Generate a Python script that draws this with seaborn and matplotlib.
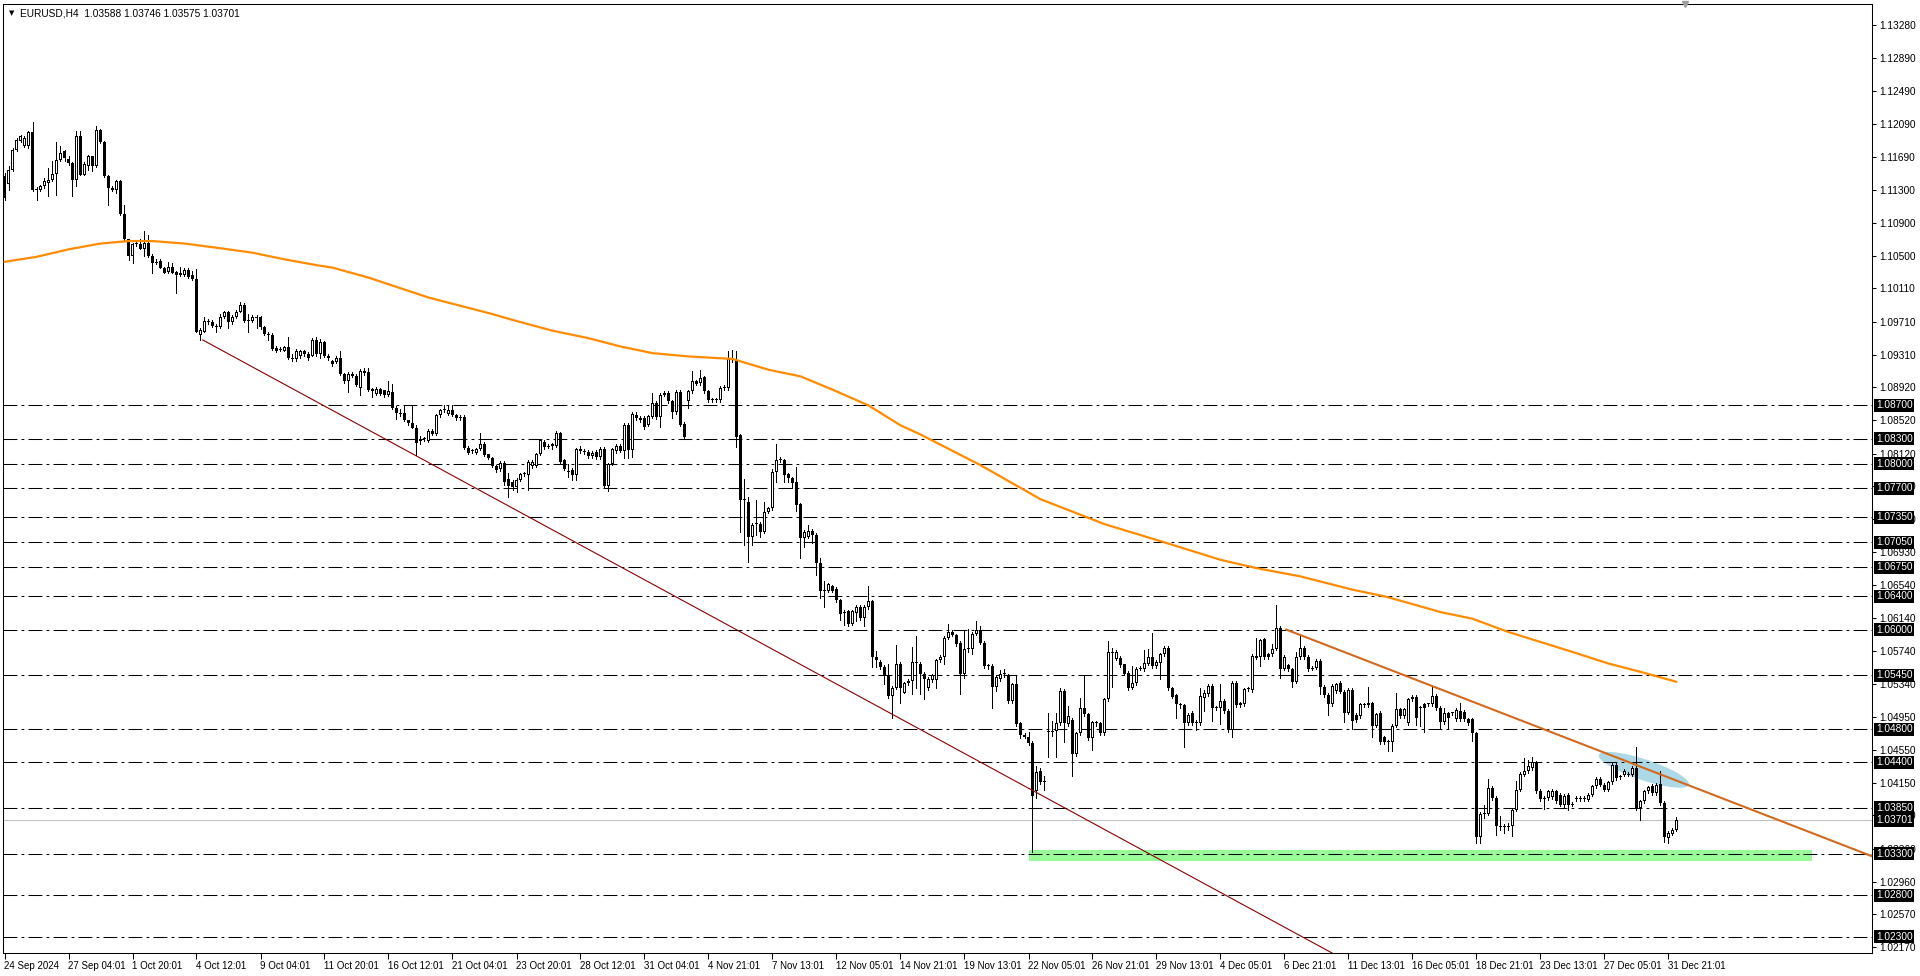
import numpy as np
import pandas as pd
import matplotlib
matplotlib.use("Agg")
import matplotlib.pyplot as plt
import seaborn as sns
from matplotlib.patches import Rectangle, Ellipse
from matplotlib.transforms import IdentityTransform

sns.set_theme(style="white")
plt.rcParams['font.family'] = ['Liberation Sans', 'DejaVu Sans']
plt.rcParams['lines.scale_dashes'] = False

# ---------------- data (EURUSD H4, one value per bar) ----------------
opens = [
 1.1146,1.1137,1.1154,1.1178,1.1188,1.1182,1.1182,1.1199,1.1130,1.1130,
 1.1134,1.1138,1.1141,1.1149,1.1166,1.1176,1.1167,1.1162,1.1141,1.1195,
 1.1148,1.1158,1.1170,1.1158,1.1202,1.1187,1.1146,1.1132,1.1129,1.1140,
 1.1101,1.1070,1.1050,1.1065,1.1065,1.1059,1.1066,1.1050,1.1042,1.1044,
 1.1036,1.1031,1.1037,1.1031,1.1027,1.1027,1.1033,1.1027,1.1022,1.0955,
 1.0959,1.0972,1.0970,1.0966,1.0964,1.0976,1.0982,1.0971,1.0977,1.0983,
 1.0991,1.0972,1.0972,1.0975,1.0976,1.0964,1.0956,1.0955,1.0939,1.0937,
 1.0936,1.0940,1.0927,1.0926,1.0929,1.0935,1.0932,1.0930,1.0949,1.0932,
 1.0946,1.0930,1.0920,1.0922,1.0927,1.0908,1.0900,1.0908,1.0906,1.0891,
 1.0909,1.0910,1.0890,1.0884,1.0890,1.0888,1.0882,1.0886,1.0867,1.0861,
 1.0861,1.0852,1.0849,1.0843,1.0827,1.0830,1.0827,1.0839,1.0835,1.0858,
 1.0864,1.0860,1.0864,1.0858,1.0855,1.0856,1.0819,1.0815,1.0813,1.0818,
 1.0824,1.0811,1.0807,1.0797,1.0793,1.0801,1.0781,1.0778,1.0772,1.0780,
 1.0787,1.0786,1.0797,1.0797,1.0811,1.0826,1.0820,1.0821,1.0821,1.0837,
 1.0804,1.0791,1.0792,1.0786,1.0817,1.0815,1.0814,1.0809,1.0814,1.0808,
 1.0818,1.0773,1.0799,1.0815,1.0821,1.0815,1.0847,1.0816,1.0859,1.0855,
 1.0855,1.0846,1.0856,1.0873,1.0856,1.0883,1.0885,1.0875,1.0862,1.0886,
 1.0848,1.0875,1.0887,1.0896,1.0897,1.0904,1.0887,1.0876,1.0877,1.0876,
 1.0891,1.0891,1.0926,1.0925,1.0834,1.0756,1.0754,1.0712,1.0727,1.0727,
 1.0718,1.0742,1.0746,1.0790,1.0804,1.0804,1.0787,1.0782,1.0778,1.0751,
 1.0710,1.0712,1.0719,1.0714,1.0680,1.0647,1.0647,1.0652,1.0649,1.0636,
 1.0620,1.0622,1.0607,1.0620,1.0627,1.0614,1.0627,1.0634,1.0567,1.0561,
 1.0555,1.0545,1.0520,1.0530,1.0559,1.0524,1.0535,1.0538,1.0561,1.0559,
 1.0547,1.0529,1.0539,1.0539,1.0563,1.0567,1.0590,1.0597,1.0594,1.0584,
 1.0547,1.0576,1.0576,1.0595,1.0600,1.0584,1.0556,1.0556,1.0531,1.0540,
 1.0546,1.0545,1.0514,1.0534,1.0487,1.0473,1.0471,1.0463,1.0405,1.0430,
 1.0416,1.0477,1.0477,1.0478,1.0487,1.0526,1.0486,1.0491,1.0450,1.0475,
 1.0506,1.0498,1.0469,1.0487,1.0487,1.0475,1.0516,1.0573,1.0565,1.0566,
 1.0558,1.0548,1.0530,1.0535,1.0553,1.0552,1.0559,1.0567,1.0556,1.0560,
 1.0570,1.0578,1.0530,1.0521,1.0510,1.0509,1.0487,1.0500,1.0487,1.0487,
 1.0517,1.0522,1.0532,1.0506,1.0505,1.0514,1.0502,1.0479,1.0536,1.0509,
 1.0510,1.0528,1.0527,1.0566,1.0567,1.0588,1.0567,1.0570,1.0577,1.0602,
 1.0553,1.0557,1.0552,1.0537,1.0567,1.0578,1.0567,1.0553,1.0554,1.0562,
 1.0531,1.0521,1.0510,1.0526,1.0536,1.0525,1.0500,1.0527,1.0497,1.0496,
 1.0510,1.0509,1.0511,1.0484,1.0500,1.0470,1.0464,1.0465,1.0484,1.0504,
 1.0496,1.0487,1.0516,1.0519,1.0505,1.0510,1.0510,1.0510,1.0520,1.0506,
 1.0488,1.0499,1.0499,1.0492,1.0502,1.0501,1.0492,1.0492,1.0475,1.0350,
 1.0378,1.0378,1.0409,1.0397,1.0363,1.0362,1.0363,1.0363,1.0383,1.0407,
 1.0425,1.0429,1.0433,1.0440,1.0406,1.0396,1.0397,1.0398,1.0405,1.0401,
 1.0388,1.0401,1.0389,1.0396,1.0397,1.0396,1.0395,1.0401,1.0411,1.0420,
 1.0413,1.0407,1.0416,1.0437,1.0422,1.0425,1.0426,1.0425,1.0433,1.0385,
 1.0393,1.0405,1.0412,1.0403,1.0414,1.0391,1.0349,1.0354,1.03588]

highs = [
 1.1150,1.1158,1.1180,1.1192,1.1196,1.1195,1.1201,1.1211,1.1133,1.1136,
 1.1144,1.1156,1.1164,1.1187,1.1182,1.1178,1.1170,1.1163,1.1200,1.1200,
 1.1163,1.1172,1.1171,1.1207,1.1203,1.1188,1.1147,1.1134,1.1141,1.1141,
 1.1112,1.1071,1.1066,1.1068,1.1071,1.1080,1.1075,1.1052,1.1046,1.1046,
 1.1037,1.1043,1.1041,1.1032,1.1037,1.1036,1.1035,1.1032,1.1034,1.0963,
 1.0976,1.0974,1.0973,1.0968,1.0980,1.0984,1.0984,1.0979,1.0985,1.0994,
 1.0993,1.0980,1.0979,1.0979,1.0978,1.0966,1.0958,1.0957,1.0941,1.0940,
 1.0942,1.0952,1.0932,1.0938,1.0937,1.0937,1.0934,1.0951,1.0952,1.0950,
 1.0948,1.0932,1.0925,1.0929,1.0936,1.0909,1.0910,1.0910,1.0908,1.0914,
 1.0915,1.0915,1.0891,1.0892,1.0891,1.0889,1.0900,1.0896,1.0869,1.0866,
 1.0871,1.0853,1.0870,1.0846,1.0833,1.0832,1.0841,1.0842,1.0860,1.0866,
 1.0870,1.0870,1.0870,1.0860,1.0858,1.0858,1.0821,1.0818,1.0819,1.0837,
 1.0826,1.0812,1.0808,1.0798,1.0803,1.0803,1.0788,1.0780,1.0783,1.0789,
 1.0790,1.0804,1.0804,1.0813,1.0830,1.0828,1.0823,1.0825,1.0839,1.0838,
 1.0806,1.0799,1.0794,1.0819,1.0821,1.0817,1.0816,1.0815,1.0816,1.0820,
 1.0820,1.0801,1.0819,1.0823,1.0823,1.0849,1.0849,1.0862,1.0862,1.0857,
 1.0857,1.0859,1.0885,1.0875,1.0885,1.0887,1.0887,1.0876,1.0889,1.0889,
 1.0850,1.0889,1.0912,1.0901,1.0913,1.0906,1.0888,1.0879,1.0879,1.0893,
 1.0894,1.0935,1.0937,1.0936,1.0836,1.0781,1.0760,1.0728,1.0756,1.0729,
 1.0754,1.0748,1.0793,1.0824,1.0808,1.0806,1.0789,1.0784,1.0796,1.0752,
 1.0720,1.0726,1.0721,1.0716,1.0686,1.0658,1.0656,1.0654,1.0651,1.0637,
 1.0624,1.0624,1.0624,1.0629,1.0629,1.0629,1.0653,1.0636,1.0574,1.0563,
 1.0557,1.0558,1.0532,1.0581,1.0561,1.0537,1.0540,1.0579,1.0592,1.0561,
 1.0549,1.0543,1.0547,1.0565,1.0569,1.0592,1.0607,1.0599,1.0595,1.0586,
 1.0599,1.0601,1.0597,1.0610,1.0604,1.0586,1.0559,1.0558,1.0545,1.0551,
 1.0552,1.0547,1.0536,1.0544,1.0489,1.0475,1.0477,1.0466,1.0435,1.0433,
 1.0423,1.0500,1.0490,1.0499,1.0530,1.0528,1.0508,1.0493,1.0477,1.0518,
 1.0545,1.0500,1.0490,1.0490,1.0489,1.0518,1.0586,1.0578,1.0575,1.0568,
 1.0559,1.0550,1.0556,1.0555,1.0556,1.0575,1.0576,1.0596,1.0563,1.0572,
 1.0580,1.0580,1.0531,1.0522,1.0512,1.0510,1.0499,1.0502,1.0491,1.0530,
 1.0527,1.0534,1.0534,1.0508,1.0534,1.0516,1.0504,1.0538,1.0538,1.0513,
 1.0530,1.0531,1.0570,1.0590,1.0589,1.0590,1.0572,1.0583,1.0629,1.0604,
 1.0569,1.0559,1.0554,1.0573,1.0594,1.0580,1.0569,1.0556,1.0564,1.0564,
 1.0533,1.0523,1.0534,1.0536,1.0538,1.0527,1.0529,1.0529,1.0499,1.0512,
 1.0512,1.0531,1.0513,1.0500,1.0502,1.0472,1.0467,1.0486,1.0523,1.0506,
 1.0506,1.0518,1.0521,1.0521,1.0508,1.0512,1.0512,1.0532,1.0522,1.0508,
 1.0506,1.0501,1.0501,1.0505,1.0512,1.0503,1.0494,1.0494,1.0477,1.0380,
 1.0389,1.0420,1.0411,1.0399,1.0375,1.0366,1.0367,1.0385,1.0418,1.0428,
 1.0445,1.0443,1.0446,1.0442,1.0408,1.0399,1.0407,1.0408,1.0407,1.0403,
 1.0402,1.0403,1.0392,1.0399,1.0399,1.0399,1.0403,1.0413,1.0422,1.0422,
 1.0415,1.0418,1.0439,1.0439,1.0425,1.0432,1.0428,1.0435,1.0458,1.0395,
 1.0407,1.0412,1.0414,1.0415,1.0430,1.0393,1.0357,1.0361,1.03746]

lows = [
 1.1118,1.1130,1.1152,1.1176,1.1187,1.1181,1.1180,1.1128,1.1118,1.1128,
 1.1132,1.1122,1.1140,1.1123,1.1165,1.1165,1.1160,1.1122,1.1134,1.1147,
 1.1147,1.1154,1.1152,1.1157,1.1186,1.1145,1.1111,1.1128,1.1126,1.1100,
 1.1069,1.1045,1.1042,1.1062,1.1058,1.1050,1.1049,1.1029,1.1040,1.1035,
 1.1029,1.1029,1.1029,1.1005,1.1026,1.1026,1.1024,1.1021,1.0958,1.0949,
 1.0958,1.0968,1.0964,1.0958,1.0963,1.0975,1.0963,1.0968,1.0975,1.0982,
 1.0970,1.0958,1.0970,1.0963,1.0962,1.0955,1.0949,1.0937,1.0934,1.0935,
 1.0935,1.0926,1.0924,1.0924,1.0927,1.0930,1.0925,1.0929,1.0930,1.0927,
 1.0928,1.0925,1.0918,1.0921,1.0907,1.0897,1.0886,1.0904,1.0893,1.0883,
 1.0907,1.0887,1.0880,1.0882,1.0883,1.0880,1.0881,1.0866,1.0854,1.0857,
 1.0851,1.0847,1.0843,1.0810,1.0824,1.0827,1.0826,1.0834,1.0834,1.0856,
 1.0862,1.0858,1.0857,1.0853,1.0853,1.0818,1.0811,1.0813,1.0811,1.0816,
 1.0809,1.0805,1.0796,1.0790,1.0791,1.0774,1.0760,1.0768,1.0766,1.0779,
 1.0785,1.0768,1.0795,1.0796,1.0810,1.0818,1.0819,1.0818,1.0820,1.0801,
 1.0792,1.0784,1.0780,1.0780,1.0813,1.0812,1.0807,1.0807,1.0806,1.0806,
 1.0771,1.0767,1.0798,1.0813,1.0814,1.0807,1.0807,1.0808,1.0853,1.0850,
 1.0842,1.0845,1.0855,1.0854,1.0844,1.0881,1.0873,1.0855,1.0860,1.0845,
 1.0830,1.0867,1.0885,1.0894,1.0895,1.0885,1.0874,1.0874,1.0874,1.0874,
 1.0889,1.0889,1.0922,1.0820,1.0717,1.0702,1.0681,1.0702,1.0714,1.0712,
 1.0716,1.0740,1.0744,1.0778,1.0802,1.0778,1.0778,1.0770,1.0743,1.0686,
 1.0699,1.0710,1.0704,1.0666,1.0638,1.0627,1.0645,1.0645,1.0633,1.0612,
 1.0606,1.0604,1.0605,1.0610,1.0612,1.0604,1.0625,1.0555,1.0555,1.0553,
 1.0534,1.0518,1.0494,1.0528,1.0512,1.0524,1.0533,1.0522,1.0530,1.0522,
 1.0516,1.0527,1.0537,1.0530,1.0561,1.0559,1.0588,1.0592,1.0580,1.0522,
 1.0542,1.0573,1.0570,1.0593,1.0582,1.0554,1.0553,1.0506,1.0526,1.0538,
 1.0543,1.0512,1.0512,1.0484,1.0469,1.0469,1.0461,1.0332,1.0397,1.0414,
 1.0407,1.0447,1.0472,1.0447,1.0485,1.0465,1.0484,1.0423,1.0448,1.0473,
 1.0496,1.0467,1.0455,1.0484,1.0473,1.0473,1.0514,1.0531,1.0563,1.0555,
 1.0545,1.0527,1.0528,1.0533,1.0551,1.0550,1.0557,1.0554,1.0554,1.0541,
 1.0568,1.0527,1.0517,1.0494,1.0506,1.0459,1.0485,1.0485,1.0479,1.0485,
 1.0502,1.0520,1.0490,1.0503,1.0486,1.0500,1.0477,1.0471,1.0507,1.0507,
 1.0508,1.0526,1.0525,1.0564,1.0556,1.0565,1.0565,1.0568,1.0575,1.0542,
 1.0551,1.0550,1.0531,1.0535,1.0565,1.0565,1.0550,1.0551,1.0552,1.0522,
 1.0519,1.0497,1.0508,1.0524,1.0523,1.0488,1.0498,1.0480,1.0489,1.0494,
 1.0507,1.0507,1.0470,1.0482,1.0462,1.0462,1.0454,1.0454,1.0482,1.0494,
 1.0494,1.0485,1.0514,1.0485,1.0484,1.0476,1.0508,1.0508,1.0503,1.0481,
 1.0486,1.0480,1.0497,1.0490,1.0490,1.0490,1.0485,1.0466,1.0343,1.0343,
 1.0373,1.0376,1.0395,1.0353,1.0358,1.0355,1.0358,1.0351,1.0381,1.0405,
 1.0423,1.0427,1.0431,1.0403,1.0394,1.0384,1.0395,1.0396,1.0391,1.0387,
 1.0386,1.0383,1.0387,1.0394,1.0394,1.0394,1.0393,1.0399,1.0409,1.0411,
 1.0405,1.0405,1.0414,1.0419,1.0420,1.0423,1.0423,1.0423,1.0383,1.0370,
 1.0391,1.0403,1.0401,1.0401,1.0389,1.0344,1.0343,1.0352,1.03575]

closes = [
 1.1120,1.1154,1.1178,1.1190,1.1194,1.1192,1.1199,1.1130,1.1131,1.1134,
 1.1140,1.1142,1.1149,1.1166,1.1174,1.1168,1.1162,1.1141,1.1195,1.1148,
 1.1161,1.1170,1.1158,1.1202,1.1187,1.1146,1.1132,1.1130,1.1140,1.1101,
 1.1070,1.1050,1.1065,1.1064,1.1059,1.1066,1.1050,1.1042,1.1043,1.1036,
 1.1030,1.1037,1.1030,1.1027,1.1029,1.1033,1.1025,1.1022,1.0959,1.0961,
 1.0972,1.0970,1.0966,1.0965,1.0976,1.0982,1.0971,1.0977,1.0983,1.0991,
 1.0972,1.0973,1.0977,1.0977,1.0964,1.0956,1.0955,1.0938,1.0936,1.0937,
 1.0940,1.0927,1.0926,1.0936,1.0935,1.0932,1.0927,1.0949,1.0932,1.0946,
 1.0930,1.0927,1.0923,1.0927,1.0908,1.0899,1.0908,1.0906,1.0894,1.0912,
 1.0912,1.0888,1.0887,1.0890,1.0884,1.0882,1.0887,1.0867,1.0861,1.0860,
 1.0852,1.0849,1.0843,1.0825,1.0830,1.0829,1.0839,1.0835,1.0858,1.0864,
 1.0866,1.0864,1.0858,1.0855,1.0856,1.0819,1.0813,1.0816,1.0817,1.0824,
 1.0810,1.0807,1.0797,1.0792,1.0801,1.0778,1.0773,1.0772,1.0780,1.0787,
 1.0788,1.0802,1.0802,1.0811,1.0828,1.0820,1.0821,1.0823,1.0837,1.0802,
 1.0793,1.0790,1.0786,1.0817,1.0815,1.0814,1.0809,1.0813,1.0808,1.0818,
 1.0773,1.0799,1.0817,1.0821,1.0815,1.0847,1.0816,1.0860,1.0855,1.0852,
 1.0844,1.0857,1.0873,1.0856,1.0883,1.0885,1.0875,1.0862,1.0886,1.0847,
 1.0832,1.0887,1.0899,1.0899,1.0903,1.0887,1.0876,1.0877,1.0876,1.0891,
 1.0892,1.0926,1.0925,1.0832,1.0756,1.0757,1.0712,1.0726,1.0727,1.0718,
 1.0742,1.0746,1.0790,1.0804,1.0805,1.0786,1.0782,1.0776,1.0750,1.0710,
 1.0718,1.0719,1.0714,1.0680,1.0647,1.0646,1.0655,1.0647,1.0635,1.0619,
 1.0621,1.0607,1.0622,1.0627,1.0614,1.0627,1.0634,1.0567,1.0563,1.0555,
 1.0545,1.0520,1.0530,1.0558,1.0529,1.0535,1.0538,1.0561,1.0560,1.0546,
 1.0540,1.0541,1.0545,1.0563,1.0567,1.0590,1.0597,1.0594,1.0583,1.0547,
 1.0576,1.0578,1.0595,1.0600,1.0584,1.0556,1.0557,1.0531,1.0543,1.0547,
 1.0546,1.0514,1.0534,1.0486,1.0473,1.0471,1.0463,1.0400,1.0428,1.0416,
 1.0417,1.0477,1.0478,1.0487,1.0526,1.0487,1.0496,1.0450,1.0475,1.0506,
 1.0498,1.0469,1.0488,1.0487,1.0475,1.0516,1.0573,1.0572,1.0573,1.0557,
 1.0547,1.0530,1.0535,1.0553,1.0554,1.0560,1.0567,1.0556,1.0561,1.0570,
 1.0578,1.0529,1.0519,1.0510,1.0509,1.0487,1.0497,1.0487,1.0489,1.0520,
 1.0523,1.0532,1.0506,1.0505,1.0514,1.0502,1.0479,1.0536,1.0509,1.0511,
 1.0528,1.0529,1.0568,1.0568,1.0587,1.0567,1.0570,1.0577,1.0602,1.0553,
 1.0567,1.0552,1.0537,1.0567,1.0578,1.0567,1.0552,1.0554,1.0562,1.0531,
 1.0521,1.0510,1.0532,1.0534,1.0525,1.0500,1.0527,1.0490,1.0491,1.0510,
 1.0509,1.0511,1.0484,1.0498,1.0465,1.0464,1.0465,1.0484,1.0504,1.0496,
 1.0504,1.0516,1.0519,1.0493,1.0505,1.0505,1.0510,1.0520,1.0505,1.0488,
 1.0499,1.0493,1.0499,1.0503,1.0492,1.0492,1.0487,1.0475,1.0350,1.0378,
 1.0378,1.0409,1.0397,1.0363,1.0362,1.0363,1.0362,1.0383,1.0407,1.0426,
 1.0429,1.0436,1.0440,1.0405,1.0396,1.0397,1.0405,1.0406,1.0393,1.0389,
 1.0400,1.0389,1.0390,1.0397,1.0396,1.0397,1.0401,1.0411,1.0420,1.0413,
 1.0407,1.0416,1.0437,1.0421,1.0423,1.0430,1.0425,1.0433,1.0385,1.0393,
 1.0405,1.0410,1.0403,1.0413,1.0391,1.0350,1.0355,1.0359,1.03701]

# moving average (orange) read at selected bars
ma_bars = [0, 8, 16, 24, 31, 37, 45, 53, 62, 70, 78, 82, 91, 106, 122, 127, 137,
           146, 154, 162, 171, 182, 191, 199, 207, 216, 224, 229, 244, 259, 275,
           290, 304, 313, 324, 337, 345, 351, 359, 367, 376, 384, 392, 401, 409, 418]
ma_vals = [1.1043, 1.1049, 1.1058, 1.1065, 1.1068, 1.1068, 1.1065, 1.1060, 1.1054,
           1.1046, 1.1039, 1.1036, 1.1024, 1.1000, 1.0980, 1.0973, 1.0960, 1.0951,
           1.0941, 1.0933, 1.0929, 1.0926, 1.0913, 1.0905, 1.0889, 1.0870, 1.0846,
           1.0835, 1.0798, 1.0757, 1.0727, 1.0705, 1.0684, 1.0674, 1.0664, 1.0648,
           1.0640, 1.0632, 1.0621, 1.0613, 1.0597, 1.0585, 1.0573, 1.0559, 1.0549,
           1.0537]

# horizontal levels (dash-dot lines with black price boxes)
levels = [1.0870, 1.0830, 1.0800, 1.0770, 1.0735, 1.0705, 1.0675, 1.0640,
          1.0600, 1.0545, 1.0480, 1.0440, 1.0385, 1.0330, 1.0280, 1.0230]
bid_price = 1.03701

# trend lines (two anchor points each: bar, price)
red_tl_bars = [49.5, 332.0]
red_tl_prices = [1.0949, 1.0210]
brown_tl_bars = [320.4, 418.0]
brown_tl_prices = [1.0600, 1.0418]

# ellipse (two ends, bar/price) and support rectangle
ellipse_bars = [398.6, 421.1]
ellipse_prices = [1.0449, 1.0413]
ellipse_ratio = 0.22
rect_bars = [256.1, 452.0]
rect_prices = [1.03215, 1.03345]

# axis labels
y_ticks = [1.13280, 1.12890, 1.12490, 1.12090, 1.11690, 1.11300, 1.10900, 1.10500,
           1.10110, 1.09710, 1.09310, 1.08920, 1.08520, 1.08120, 1.07730, 1.07330,
           1.06930, 1.06540, 1.06140, 1.05740, 1.05340, 1.04950, 1.04550, 1.04150,
           1.03760, 1.03360, 1.02960, 1.02570, 1.02170]
x_tick_labels = ["24 Sep 2024", "27 Sep 04:01", "1 Oct 20:01", "4 Oct 12:01",
                 "9 Oct 04:01", "11 Oct 20:01", "16 Oct 12:01", "21 Oct 04:01",
                 "23 Oct 20:01", "28 Oct 12:01", "31 Oct 04:01", "4 Nov 21:01",
                 "7 Nov 13:01", "12 Nov 05:01", "14 Nov 21:01", "19 Nov 13:01",
                 "22 Nov 05:01", "26 Nov 21:01", "29 Nov 13:01", "4 Dec 05:01",
                 "6 Dec 21:01", "11 Dec 13:01", "16 Dec 05:01", "18 Dec 21:01",
                 "23 Dec 13:01", "27 Dec 05:01", "31 Dec 21:01"]
x_tick_step = 16
title_text = "EURUSD,H4  1.03588 1.03746 1.03575 1.03701"

# ---------------- figure ----------------
W, H, DPI = 1920, 976, 100
fig = plt.figure(figsize=(W / DPI, H / DPI), dpi=DPI, facecolor="white")
ax = fig.add_axes([3 / W, (H - 953) / H, (1872 - 3) / W, (953 - 4) / H])
ax.set_facecolor("white")

XLIM = (-0.375, 466.875)
YLIM = (1.02103, 1.13536)
ax.set_xlim(*XLIM)
ax.set_ylim(*YLIM)
ax.set_autoscale_on(False)
PX = (YLIM[1] - YLIM[0]) / (953 - 4)   # price per screen pixel

df = pd.DataFrame({"open": opens, "high": highs, "low": lows, "close": closes})
df["bar"] = np.arange(len(df))
up = df["close"] >= df["open"]

# background objects
ax.add_patch(Rectangle((rect_bars[0], rect_prices[0]), rect_bars[1] - rect_bars[0],
                       rect_prices[1] - rect_prices[0], facecolor="#98FB98",
                       edgecolor="none", zorder=0.5))
p1 = ax.transData.transform((ellipse_bars[0], ellipse_prices[0]))
p2 = ax.transData.transform((ellipse_bars[1], ellipse_prices[1]))
cen = (p1 + p2) / 2
d = p2 - p1
ew = float(np.hypot(d[0], d[1]))
ang = float(np.degrees(np.arctan2(d[1], d[0])))
ell = Ellipse(cen, ew, ew * ellipse_ratio, angle=ang, transform=IdentityTransform(),
              facecolor="#ADD8E6", edgecolor="none", zorder=0.6)
ax.add_patch(ell)

# levels
for lv in levels:
    ax.axhline(lv, color="black", lw=0.75, linestyle=(0, (10, 3, 2, 3)), zorder=1)
ax.axhline(bid_price, color="#C0C0C0", lw=0.75, zorder=1)

# candles: wick, black outer body (3 px), white 1 px core for rising bars
ax.vlines(df["bar"], df["low"], df["high"], color="black", lw=0.72, zorder=3,
          antialiased=False)
body_lo = np.minimum(df["open"], df["close"])
body_h = np.abs(df["close"] - df["open"])
outer_h = np.maximum(body_h, PX)
ax.bar(df["bar"], outer_h, bottom=body_lo, width=0.75, color="black", linewidth=0,
       zorder=4, antialiased=False)
core = up & (body_h > 2.5 * PX)
ax.bar(df["bar"][core], body_h[core] - 2 * PX, bottom=body_lo[core] + PX, width=0.25,
       color="white", linewidth=0, zorder=5, antialiased=False)

# moving average
sns.lineplot(x=ma_bars, y=ma_vals, ax=ax, color="#FF8C00", lw=1.6, zorder=6,
             legend=False)

# trend lines (rays to the right edge)
def ray(bars, prices, **kw):
    slope = (prices[1] - prices[0]) / (bars[1] - bars[0])
    xe = XLIM[1] + 5
    ax.plot([bars[0], xe], [prices[0], prices[0] + slope * (xe - bars[0])], **kw)

ray(red_tl_bars, red_tl_prices, color="#8B0000", lw=0.8, zorder=7)
ray(brown_tl_bars, brown_tl_prices, color="#D2691E", lw=1.5, zorder=7)

# axes styling
for s in ax.spines.values():
    s.set_color("black")
    s.set_linewidth(0.75)
ax.set_xlabel("")
ax.set_ylabel("")

tick_pos = [i * x_tick_step for i in range(len(x_tick_labels))]
ax.set_xticks(tick_pos)
ax.set_xticklabels(x_tick_labels, ha="left")
ax.tick_params(axis="x", bottom=True, direction="out", length=4, width=0.75,
               pad=2, labelsize=7.0, colors="black")

ax.yaxis.tick_right()
ax.set_yticks(y_ticks)
ax.set_yticklabels([f"{v:.5f}" for v in y_ticks])
ax.tick_params(axis="y", right=True, left=False, direction="out", length=3,
               width=0.75, pad=2, labelsize=7.3, colors="black")
ax.set_xlim(*XLIM)
ax.set_ylim(*YLIM)

# black price boxes for levels and bid
for lv in levels + [bid_price]:
    ax.annotate(f"{lv:.5f}", xy=(1.0, lv), xycoords=("axes fraction", "data"),
                xytext=(4, 0), textcoords="offset pixels", ha="left", va="center",
                color="white", fontsize=7.3,
                bbox=dict(boxstyle="square,pad=0.15", fc="black", ec="none"),
                annotation_clip=False, zorder=10)

# title and markers
fig.text(20 / W, 1 - 13 / H, title_text, fontsize=7.3, va="center", ha="left",
         color="black")
fig.text(9 / W, 1 - 13 / H, "\u25BC", fontsize=5, va="center", ha="left",
         color="black", family="DejaVu Sans")
ax.plot([0.9], [1.0], marker="v", ms=5, color="#A0A0A0", transform=ax.transAxes,
        clip_on=False, zorder=10)

fig.savefig("out.png", dpi=DPI, facecolor="white")
